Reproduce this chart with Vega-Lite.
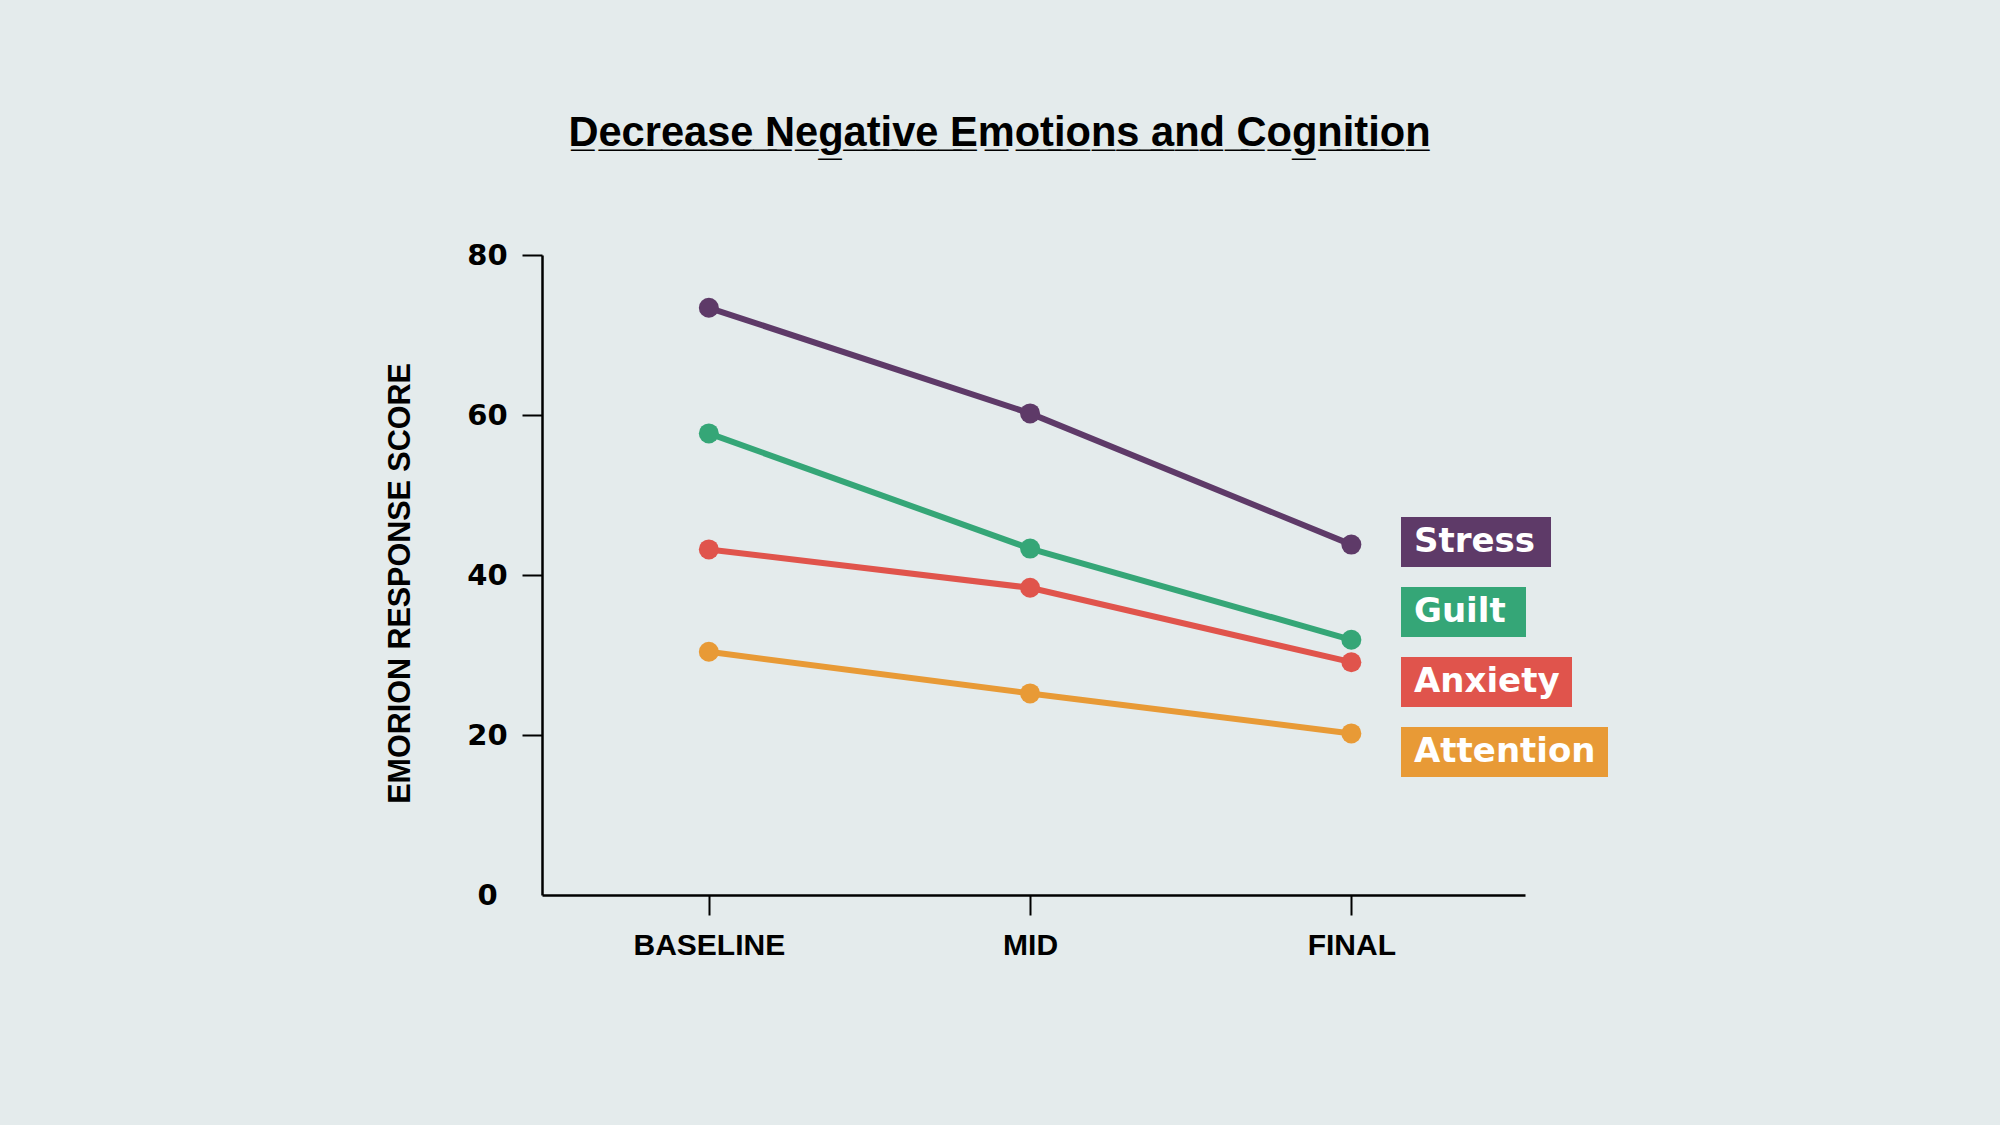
{
  "$schema": "https://vega.github.io/schema/vega-lite/v6.json",
  "width": 983,
  "height": 640,
  "autosize": {"type": "none"},
  "padding": {"left": 542, "top": 255, "right": 475, "bottom": 230},
  "background": "#e4ebec",
  "title": {
    "text": "D\u0332e\u0332c\u0332r\u0332e\u0332a\u0332s\u0332e\u0332 \u0332N\u0332e\u0332g\u0332a\u0332t\u0332i\u0332v\u0332e\u0332 \u0332E\u0332m\u0332o\u0332t\u0332i\u0332o\u0332n\u0332s\u0332 \u0332a\u0332n\u0332d\u0332 \u0332C\u0332o\u0332g\u0332n\u0332i\u0332t\u0332i\u0332o\u0332n\u0332",
    "font": "Liberation Sans",
    "fontSize": 41.6,
    "fontWeight": "bold",
    "color": "black",
    "anchor": "middle",
    "dx": -34,
    "offset": 86
  },
  "data": {
    "values": [
      {"phase": "BASELINE", "emotion": "Stress", "score": 73.4},
      {"phase": "MID", "emotion": "Stress", "score": 60.2},
      {"phase": "FINAL", "emotion": "Stress", "score": 43.8},
      {"phase": "BASELINE", "emotion": "Guilt", "score": 57.7},
      {"phase": "MID", "emotion": "Guilt", "score": 43.3},
      {"phase": "FINAL", "emotion": "Guilt", "score": 31.9},
      {"phase": "BASELINE", "emotion": "Anxiety", "score": 43.2},
      {"phase": "MID", "emotion": "Anxiety", "score": 38.4},
      {"phase": "FINAL", "emotion": "Anxiety", "score": 29.1},
      {"phase": "BASELINE", "emotion": "Attention", "score": 30.4},
      {"phase": "MID", "emotion": "Attention", "score": 25.2},
      {"phase": "FINAL", "emotion": "Attention", "score": 20.2}
    ]
  },
  "encoding": {
    "x": {
      "field": "phase",
      "type": "ordinal",
      "sort": ["BASELINE", "MID", "FINAL"],
      "scale": {"type": "point", "padding": 0.53, "align": 0.49},
      "axis": {
        "title": null,
        "labelAngle": 0,
        "labelFont": "Liberation Sans",
        "labelFontSize": 30,
        "labelFontWeight": "bold",
        "labelColor": "black",
        "labelPadding": 15,
        "tickSize": 20,
        "tickWidth": 2,
        "tickColor": "black",
        "domainColor": "black",
        "domainWidth": 2.5,
        "grid": false
      }
    },
    "y": {
      "field": "score",
      "type": "quantitative",
      "scale": {"domain": [0, 80], "nice": false},
      "axis": {
        "title": "EMORION RESPONSE SCORE",
        "titleFont": "Liberation Sans",
        "titleFontSize": 30.5,
        "titleFontWeight": "bold",
        "titleColor": "black",
        "titlePadding": 51,
        "titleY": 328,
        "values": [0, 20, 40, 60, 80],
        "labelFont": "DejaVu Sans",
        "labelFontSize": 29,
        "labelFontWeight": "bold",
        "labelColor": "black",
        "labelAlign": "center",
        "labelPadding": 35,
        "tickSize": 20,
        "tickWidth": 2,
        "tickColor": {"condition": {"test": "datum.value === 0", "value": "transparent"}, "value": "black"},
        "domainColor": "black",
        "domainWidth": 2.5,
        "grid": false
      }
    }
  },
  "layer": [
    {
      "mark": {"type": "line", "strokeWidth": 6},
      "encoding": {
        "color": {
          "field": "emotion",
          "type": "nominal",
          "scale": {"domain": ["Stress", "Guilt", "Anxiety", "Attention"], "range": ["#5e3a68", "#35a677", "#e0544c", "#e89a36"]},
          "legend": null
        }
      }
    },
    {
      "mark": {"type": "point", "filled": true, "size": 400, "opacity": 1},
      "encoding": {
        "color": {
          "field": "emotion",
          "type": "nominal",
          "scale": {"domain": ["Stress", "Guilt", "Anxiety", "Attention"], "range": ["#5e3a68", "#35a677", "#e0544c", "#e89a36"]},
          "legend": {
            "title": null,
            "orient": "none",
            "legendX": 859,
            "legendY": 262,
            "padding": 0,
            "rowPadding": 20,
            "symbolSize": 2500,
            "symbolStrokeWidth": 0,
            "symbolType": {"expr": "datum.value == 'Stress' ? 'M-1,-1H5V1H-1Z' : datum.value == 'Guilt' ? 'M-1,-1H4V1H-1Z' : datum.value == 'Anxiety' ? 'M-1,-1H5.84V1H-1Z' : 'M-1,-1H7.28V1H-1Z'"},
            "labelFont": "DejaVu Sans",
            "labelFontSize": 34,
            "labelFontWeight": "bold",
            "labelColor": "white",
            "labelOffset": -37,
            "labelLimit": 400
          }
        }
      }
    }
  ],
  "resolve": {"legend": {"color": "independent"}},
  "config": {
    "view": {"stroke": null}
  }
}
